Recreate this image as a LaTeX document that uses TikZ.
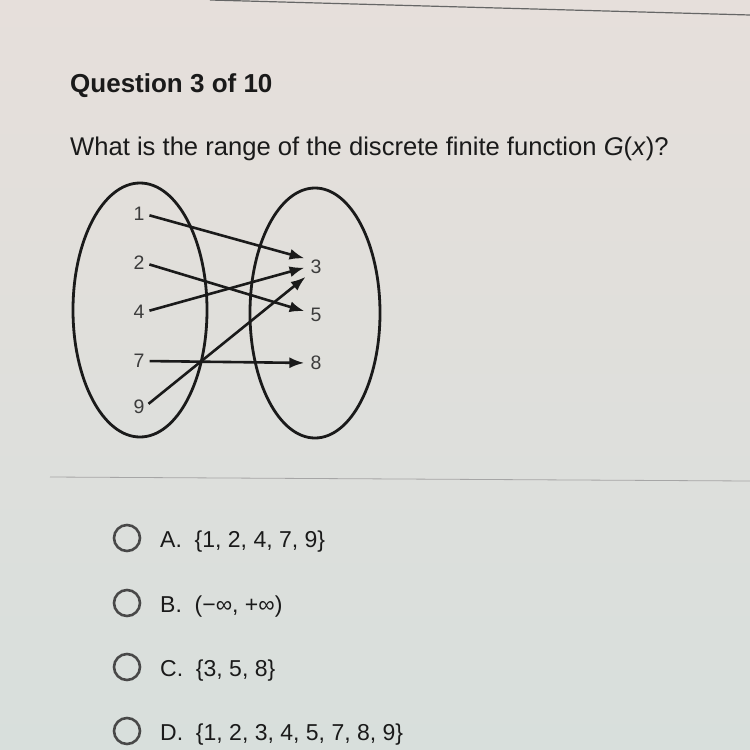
\documentclass[tikz,border=0pt]{standalone}
\usepackage{fontspec}
\setmainfont{Liberation Sans}
\usetikzlibrary{arrows.meta}
\definecolor{bgtop}{HTML}{E6DFDB}
\definecolor{bgbot}{HTML}{D8DFDC}
\definecolor{ink}{HTML}{1A1A1A}
\definecolor{radio}{HTML}{484848}
\begin{document}
\begin{tikzpicture}[x=1pt,y=-1pt,
  lbl/.style={inner sep=0pt, text=ink!85, font=\fontsize{19.5}{20}\selectfont},
  setell/.style={draw=ink, line width=2.8pt},
  maparrow/.style={draw=ink, line width=2.6pt, -{Latex[length=15pt,width=11pt]}, shorten <=5pt, shorten >=6pt},
  radiobtn/.style={circle, draw=radio, line width=2.6pt, minimum size=26pt, inner sep=0pt},
  opt/.style={anchor=base west, inner sep=0pt, text=ink, font=\fontsize{23}{23}\selectfont},
  sep/.style={draw=gray!70, line width=0.8pt}]
\useasboundingbox (0,0) rectangle (750,750);
\shade[top color=bgtop, bottom color=bgbot] (0,0) rectangle (750,750);
\coordinate (ta) at (210,0);
\coordinate (tb) at (750,15);
\draw[draw=gray!80!black, line width=1.2pt] (ta) -- (tb);
\coordinate (sa) at (50,477);
\coordinate (sb) at (750,481);
\draw[sep] (sa) -- (sb);
% texts
\node[anchor=base west, inner sep=0pt, text=ink, font=\fontsize{26}{26}\selectfont\bfseries] (title) at (70,92) {Question 3 of 10};
\node[anchor=base west, inner sep=0pt, text=ink, font=\fontsize{25.6}{26}\selectfont] (q) at (70,155) {What is the range of the discrete finite function \textit{G}(\textit{x})?};
% ellipses
\draw[setell] (140,310) ellipse [x radius=67, y radius=127];
\draw[setell] (315,313) ellipse [x radius=65, y radius=125];
% labels
\node[lbl] (l1) at (139,214) {1};
\node[lbl] (l2) at (139,263) {2};
\node[lbl] (l4) at (139,312) {4};
\node[lbl] (l7) at (139,361) {7};
\node[lbl] (l9) at (139,407) {9};
\node[lbl] (r3) at (316,267) {3};
\node[lbl] (r5) at (316,315) {5};
\node[lbl] (r8) at (316,363) {8};
% arrows
\draw[maparrow] (l1.east) -- ([yshift=7pt]r3.west);
\draw[maparrow] (l2.east) -- ([yshift=2pt]r5.west);
\draw[maparrow] (l4.east) -- ([yshift=1pt]r3.west);
\draw[maparrow] (l7.east) -- (r8.west);
\draw[maparrow] (l9.east) -- ([yshift=-6pt]r3.west);
% options
\node[radiobtn] (ra) at (127,538) {};
\node[radiobtn] (rb) at (127,603) {};
\node[radiobtn] (rc) at (127,667) {};
\node[radiobtn] (rd) at (127,731) {};
\node[opt] (oa) at (160,547) {A.\ \ \{1, 2, 4, 7, 9\}};
\node[opt] (ob) at (160,612) {B.\ \ (−∞, +∞)};
\node[opt] (oc) at (160,676) {C.\ \ \{3, 5, 8\}};
\node[opt] (od) at (160,740) {D.\ \ \{1, 2, 3, 4, 5, 7, 8, 9\}};
\end{tikzpicture}
\end{document}
